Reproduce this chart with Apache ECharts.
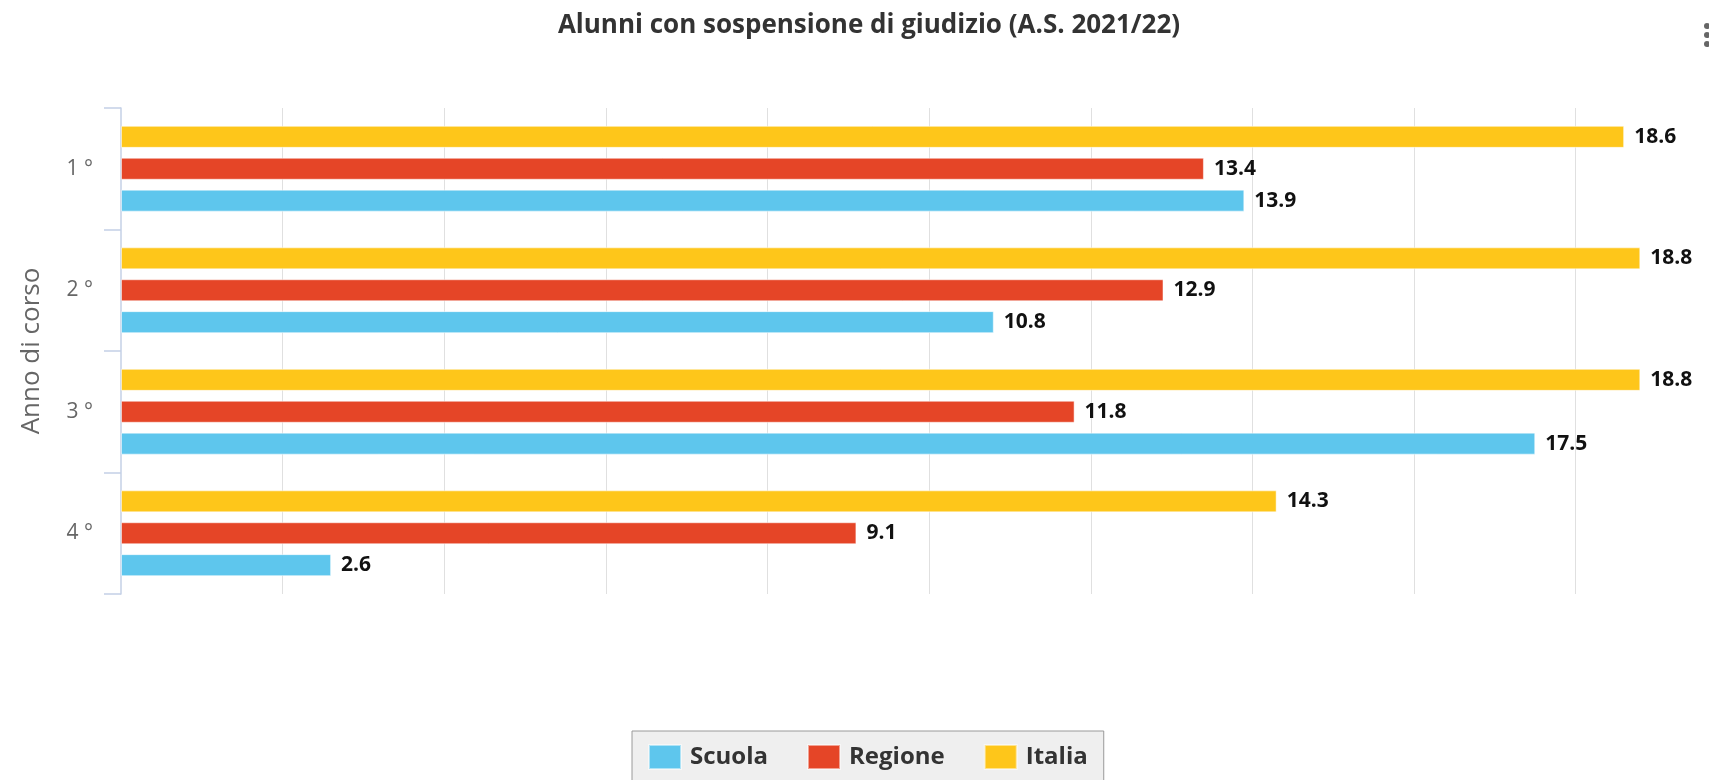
<!DOCTYPE html>
<html>
<head>
<meta charset="utf-8">
<script src="https://cdn.jsdelivr.net/npm/echarts@6/dist/echarts.min.js"></script>
<style>
  html, body { margin: 0; padding: 0; background: #fff; }
  #chart { width: 1709px; height: 780px; }
</style>
</head>
<body>
<div id="chart"></div>
<script>
// dati
const anni = ['1 °', '2 °', '3 °', '4 °']
const scuola = [13.9, 10.8, 17.5, 2.6]
const regione = [13.4, 12.9, 11.8, 9.1]
const italia = [18.6, 18.8, 18.8, 14.3]

const font = '"Open Sans", "DejaVu Sans", sans-serif'

const barSeries = (name, data, color) => ({
  name,
  type: 'bar',
  data,
  barWidth: 22,
  barGap: '45%',
  itemStyle: { color, borderColor: 'rgba(255,255,255,0.5)', borderWidth: 1 },
  label: {
    show: true,
    position: 'right',
    distance: 10,
    color: '#111',
    fontFamily: font,
    fontWeight: 'bold',
    fontSize: 21,
  },
})

const chart = echarts.init(document.getElementById('chart'))

chart.setOption({
  animation: false,
  title: {
    text: 'Alunni con sospensione di giudizio (A.S. 2021/22)',
    left: 864,
    textAlign: 'center',
    top: 8,
    textStyle: { color: '#333', fontFamily: font, fontWeight: 'bold', fontSize: 26 },
  },
  legend: {
    data: ['Scuola', 'Regione', 'Italia'],
    left: 632,
    top: 731,
    padding: [13, 16, 30, 16],
    itemWidth: 32,
    itemHeight: 24,
    itemGap: 39,
    backgroundColor: '#efefef',
    borderColor: '#9a9a9a',
    borderWidth: 1,
    icon: 'rect',
    textStyle: { color: '#333', fontFamily: font, fontWeight: 'bold', fontSize: 24, padding: [0, 0, 0, 4] },
  },
  grid: { left: 121, right: 0, top: 108, bottom: 186 },
  xAxis: {
    type: 'value',
    min: 0,
    max: 19.65,
    interval: 2,
    axisLine: { show: false },
    axisTick: { show: false },
    axisLabel: { show: false },
    splitLine: { showMinLine: false, showMaxLine: false, lineStyle: { color: '#e0e0e0', width: 1 } },
  },
  yAxis: {
    type: 'category',
    data: anni,
    inverse: true,
    name: 'Anno di corso',
    nameLocation: 'middle',
    nameRotate: 90,
    nameGap: 76,
    nameTextStyle: { color: '#666', fontFamily: font, fontSize: 26 },
    axisLine: { show: true, lineStyle: { color: '#c4d0e6', width: 1.5 } },
    axisTick: { show: true, alignWithLabel: false, length: 17, lineStyle: { color: '#c4d0e6', width: 1.5 } },
    axisLabel: { color: '#666', fontFamily: font, fontSize: 21, margin: 28 },
  },
  series: [
    barSeries('Italia', italia, '#fec61a'),
    barSeries('Regione', regione, '#e54527'),
    barSeries('Scuola', scuola, '#5ec6ed'),
  ],
  graphic: [
    { type: 'circle', shape: { cx: 1707, cy: 26, r: 3 }, style: { fill: '#666' } },
    { type: 'circle', shape: { cx: 1707, cy: 35, r: 3 }, style: { fill: '#666' } },
    { type: 'circle', shape: { cx: 1707, cy: 44, r: 3 }, style: { fill: '#666' } },
  ],
})
</script>
</body>
</html>
